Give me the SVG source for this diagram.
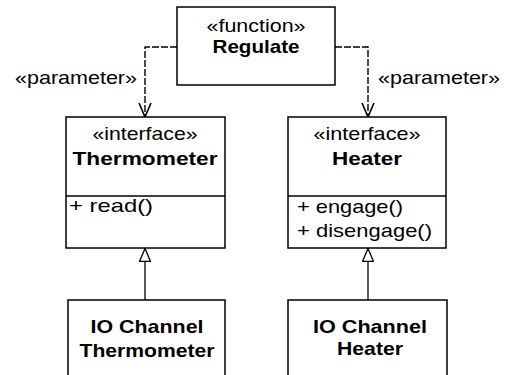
<svg xmlns="http://www.w3.org/2000/svg" width="505" height="375" viewBox="0 0 505 375">
<style>
  .box { fill: #fff; stroke: #000; stroke-width: 1.5; }
  .div { stroke: #000; stroke-width: 1.5; }
  .t { font-family: "Liberation Sans", Arial, sans-serif; font-size: 19px; fill: #000; }
  .c { text-anchor: middle; }
  .b { font-weight: bold; }
  .dep { fill: none; stroke: #000; stroke-width: 1.4; stroke-dasharray: 7 2; }
  .real { fill: none; stroke: #000; stroke-width: 1.3; }
</style>
<defs>
  <marker id="open" viewBox="0 0 14 14" refX="14" refY="7" markerWidth="14" markerHeight="14" markerUnits="userSpaceOnUse" orient="auto">
    <path d="M0,1 L14,7 L0,13" fill="none" stroke="#000" stroke-width="1.6"/>
  </marker>
  <marker id="tri" viewBox="0 0 14 12" refX="14" refY="6" markerWidth="14" markerHeight="12" markerUnits="userSpaceOnUse" orient="auto">
    <path d="M0.5,0.5 L13.5,6 L0.5,11.5 Z" fill="#fff" stroke="#000" stroke-width="1.3"/>
  </marker>
</defs>
<rect width="505" height="375" fill="#fff"/>
<g id="connectors">
  <path class="dep" d="M177,47 H145 V117" marker-end="url(#open)"/>
  <path class="dep" d="M335,47 H368 V117" marker-end="url(#open)"/>
  <path class="real" d="M145,300 V248" marker-end="url(#tri)"/>
  <path class="real" d="M368,300 V248" marker-end="url(#tri)"/>
  <text class="t" x="15" y="84" textLength="122" lengthAdjust="spacingAndGlyphs">«parameter»</text>
  <text class="t" x="378" y="84" textLength="122" lengthAdjust="spacingAndGlyphs">«parameter»</text>
</g>
<g id="regulate">
  <rect class="box" x="177" y="7" width="158" height="78"/>
  <text class="t c" x="256" y="32" textLength="99" lengthAdjust="spacingAndGlyphs">«function»</text>
  <text class="t c b" x="256" y="53" textLength="87" lengthAdjust="spacingAndGlyphs">Regulate</text>
</g>
<g id="thermometer">
  <rect class="box" x="66" y="117" width="159" height="131"/>
  <line class="div" x1="66" y1="196" x2="225" y2="196"/>
  <text class="t c" x="145" y="140" textLength="105" lengthAdjust="spacingAndGlyphs">«interface»</text>
  <text class="t c b" x="145" y="165" textLength="145" lengthAdjust="spacingAndGlyphs">Thermometer</text>
  <text class="t" x="69" y="212" textLength="84" lengthAdjust="spacingAndGlyphs">+ read()</text>
</g>
<g id="heater">
  <rect class="box" x="288" y="117" width="158" height="131"/>
  <line class="div" x1="288" y1="196" x2="446" y2="196"/>
  <text class="t c" x="367" y="140" textLength="107" lengthAdjust="spacingAndGlyphs">«interface»</text>
  <text class="t c b" x="367" y="165" textLength="70" lengthAdjust="spacingAndGlyphs">Heater</text>
  <text class="t" x="297" y="213" textLength="106" lengthAdjust="spacingAndGlyphs">+ engage()</text>
  <text class="t" x="297" y="237" textLength="135" lengthAdjust="spacingAndGlyphs">+ disengage()</text>
</g>
<g id="io-thermometer">
  <rect class="box" x="68" y="300" width="157" height="90"/>
  <text class="t c b" x="147" y="333" textLength="113" lengthAdjust="spacingAndGlyphs">IO Channel</text>
  <text class="t c b" x="147" y="357" textLength="135" lengthAdjust="spacingAndGlyphs">Thermometer</text>
</g>
<g id="io-heater">
  <rect class="box" x="288" y="300" width="159" height="90"/>
  <text class="t c b" x="370" y="333" textLength="114" lengthAdjust="spacingAndGlyphs">IO Channel</text>
  <text class="t c b" x="370" y="355" textLength="66" lengthAdjust="spacingAndGlyphs">Heater</text>
</g>
</svg>
